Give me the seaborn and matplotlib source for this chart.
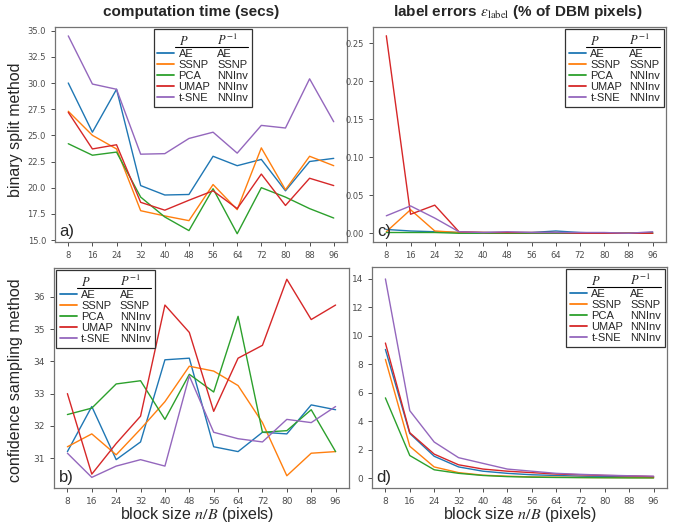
import pandas as pd
import matplotlib.pyplot as plt
import seaborn as sns
from matplotlib.lines import Line2D

sns.set_style("ticks")
plt.rcParams['font.family'] = ['Liberation Sans', 'DejaVu Sans']
plt.rcParams['mathtext.fontset'] = 'stix'
plt.rcParams['axes.edgecolor'] = '0.45'
plt.rcParams['xtick.color'] = '0.3'
plt.rcParams['ytick.color'] = '0.3'

# block sizes n/B
block_sizes = [8, 16, 24, 32, 40, 48, 56, 64, 72, 80, 88, 96]
projections = ["AE", "SSNP", "PCA", "UMAP", "t-SNE"]
inverses = ["AE", "SSNP", "NNInv", "NNInv", "NNInv"]
colors = sns.color_palette("tab10", 5)

# a) computation time, binary split (one row per projection)
time_binary = [
    [30.0, 25.3, 29.4, 20.2, 19.3, 19.35, 23.0, 22.1, 22.7, 19.7, 22.5, 22.8],
    [27.3, 25.0, 23.7, 17.8, 17.3, 16.85, 20.3, 17.9, 23.8, 19.8, 23.0, 22.1],
    [24.2, 23.1, 23.4, 19.1, 17.2, 15.9, 19.9, 15.6, 20.0, 19.1, 18.0, 17.1],
    [27.2, 23.7, 24.1, 18.6, 17.85, 18.8, 19.7, 18.0, 21.3, 18.3, 20.9, 20.2],
    [34.5, 29.9, 29.4, 23.2, 23.25, 24.7, 25.3, 23.3, 25.95, 25.7, 30.4, 26.3],
]
# b) computation time, confidence sampling
time_confidence = [
    [31.2, 32.6, 30.95, 31.5, 34.05, 34.1, 31.35, 31.2, 31.8, 31.75, 32.65, 32.5],
    [31.35, 31.75, 31.1, 31.9, 32.75, 33.85, 33.7, 33.25, 32.1, 30.45, 31.15, 31.2],
    [32.35, 32.55, 33.3, 33.4, 32.2, 33.6, 33.05, 35.4, 31.8, 31.85, 32.5, 31.2],
    [33.0, 30.5, 31.45, 32.3, 35.75, 34.9, 32.45, 34.1, 34.5, 36.55, 35.3, 35.75],
    [31.15, 30.4, 30.75, 30.95, 30.75, 33.55, 31.8, 31.6, 31.5, 32.2, 32.1, 32.6],
]
# c) label errors, binary split
errors_binary = [
    [0.005, 0.003, 0.002, 0.001, 0.001, 0.001, 0.001, 0.003, 0.001, 0.0, 0.0, 0.001],
    [0.002, 0.031, 0.003, 0.001, 0.001, 0.0, 0.0, 0.0, 0.0, 0.0, 0.0, 0.0],
    [0.001, 0.001, 0.001, 0.0, 0.0, 0.0, 0.0, 0.0, 0.0, 0.0, 0.0, 0.0],
    [0.26, 0.025, 0.037, 0.002, 0.001, 0.001, 0.001, 0.001, 0.0, 0.0, 0.0, 0.0],
    [0.023, 0.036, 0.020, 0.002, 0.001, 0.002, 0.001, 0.001, 0.001, 0.001, 0.0, 0.002],
]
# d) label errors, confidence sampling
errors_confidence = [
    [9.05, 3.15, 1.55, 0.8, 0.5, 0.35, 0.25, 0.2, 0.15, 0.12, 0.1, 0.08],
    [8.35, 2.25, 0.8, 0.4, 0.22, 0.15, 0.1, 0.08, 0.06, 0.05, 0.05, 0.04],
    [5.65, 1.6, 0.6, 0.35, 0.2, 0.12, 0.08, 0.06, 0.05, 0.04, 0.03, 0.03],
    [9.5, 3.2, 1.7, 0.95, 0.65, 0.5, 0.4, 0.3, 0.25, 0.2, 0.17, 0.12],
    [14.0, 4.75, 2.55, 1.45, 1.05, 0.65, 0.5, 0.35, 0.28, 0.22, 0.18, 0.15],
]

W, H = 676, 524


def px_axes(fig, x0, y0, x1, y1):
    # axes box given in pixel coords of the reference (top-left origin)
    return fig.add_axes([x0 / W, 1 - y1 / H, (x1 - x0) / W, (y1 - y0) / H])


def long_frame(rows):
    recs = []
    for name, vals in zip(projections, rows):
        for b, v in zip(block_sizes, vals):
            recs.append({"block": b, "value": v, "projection": name})
    return pd.DataFrame(recs)


def draw_panel(ax, rows, ylim, yticks, yfmt, letter, loc, anchor, tsize):
    df = long_frame(rows)
    sns.lineplot(data=df, x="block", y="value", hue="projection",
                 hue_order=projections, palette=colors, legend=False,
                 ax=ax, linewidth=1.0)
    ax.set_xticks(block_sizes)
    ax.set_yticks(yticks)
    ax.set_yticklabels([yfmt.format(t) for t in yticks])
    ax.set_ylim(*ylim)
    ax.set_xlabel("")
    ax.set_ylabel("")
    ax.tick_params(labelsize=tsize, length=3, width=0.7)
    for lab in ax.get_xticklabels() + ax.get_yticklabels():
        lab.set_family("DejaVu Sans")
    for sp in ax.spines.values():
        sp.set_linewidth(0.9)
    ax.text(0.015, 0.015, letter, transform=ax.transAxes, fontsize=12,
            ha="left", va="bottom")

    blank = Line2D([], [], color="none")
    handles = [blank] + [Line2D([], [], color=c, lw=1.3) for c in colors] + [blank] * 6
    labels = ["$P$"] + projections + ["$P^{-1}$"] + inverses
    leg = ax.legend(handles, labels, ncol=2, loc=loc, bbox_to_anchor=anchor,
                    fontsize=8, handlelength=1.5, handletextpad=0.4,
                    columnspacing=-1.3, labelspacing=0.08, borderpad=0.35,
                    frameon=True, fancybox=False, framealpha=1,
                    edgecolor="0.2", borderaxespad=0.2)
    leg.get_frame().set_linewidth(0.9)
    for t in (leg.get_texts()[0], leg.get_texts()[6]):
        t.set_fontsize(9)
    return leg


fig = plt.figure(figsize=(W / 100, H / 100), dpi=100)

ax_a = px_axes(fig, 55, 27, 347, 242)
ax_c = px_axes(fig, 373, 27, 666, 242)
ax_b = px_axes(fig, 54, 268, 349, 488)
ax_d = px_axes(fig, 372, 267, 667, 488)

legs = [
    draw_panel(ax_a, time_binary, (14.81, 35.35), [15, 17.5, 20, 22.5, 25, 27.5, 30, 32.5, 35],
               "{:.1f}", "a)", "upper left", (0.33, 1.0), 6),
    draw_panel(ax_c, errors_binary, (-0.0115, 0.2715), [0, 0.05, 0.10, 0.15, 0.20, 0.25],
               "{:.2f}", "c)", "upper right", (1.0, 1.0), 6),
    draw_panel(ax_b, time_confidence, (30.07, 36.9), [31, 32, 33, 34, 35, 36],
               "{:.0f}", "b)", "upper left", (0.0, 1.0), 6.5),
    draw_panel(ax_d, errors_confidence, (-0.68, 14.84), [0, 2, 4, 6, 8, 10, 12, 14],
               "{:.0f}", "d)", "upper right", (1.0, 1.0), 6.5),
]

# column titles, row labels and shared x labels
fig.text(191 / W, 1 - 12 / H, "computation time (secs)", ha="center", va="center",
         fontsize=11, fontweight="bold", family=["Liberation Sans Narrow", "Liberation Sans"])
fig.text(518 / W, 1 - 12 / H, r"label errors $\varepsilon_{\mathrm{label}}$ (% of DBM pixels)",
         ha="center", va="center", fontsize=11, fontweight="bold",
         family=["Liberation Sans Narrow", "Liberation Sans"])
fig.text(16 / W, 1 - 130 / H, "binary split method", rotation=90, ha="center",
         va="center", fontsize=11.5)
fig.text(16 / W, 1 - 380 / H, "confidence sampling method", rotation=90, ha="center",
         va="center", fontsize=11.5)
fig.text(197 / W, 1 - 514 / H, "block size $n/B$ (pixels)", ha="center", va="center",
         fontsize=11.5)
fig.text(520 / W, 1 - 514 / H, "block size $n/B$ (pixels)", ha="center", va="center",
         fontsize=11.5)

# underline below the P / P^-1 header of each legend
fig.canvas.draw()
inv = fig.transFigure.inverted()
for leg in legs:
    t1 = leg.get_texts()[0].get_window_extent()
    t2 = leg.get_texts()[6].get_window_extent()
    box = leg.get_frame().get_window_extent()
    y = min(t1.y0, t2.y0) + 1
    x0, y0 = inv.transform((t1.x0 - 4, y))
    x1, _ = inv.transform((box.x1 - 4, y))
    fig.add_artist(Line2D([x0, x1], [y0, y0], transform=fig.transFigure,
                          color="black", lw=0.8))

fig.savefig("out.png", dpi=100)
